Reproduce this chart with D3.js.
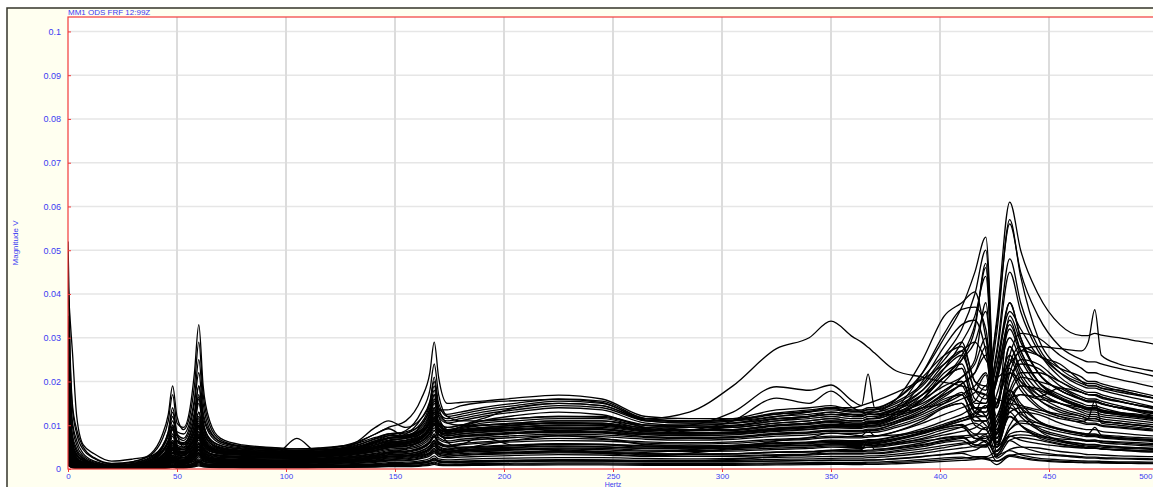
<!DOCTYPE html>
<html>
<head>
<meta charset="utf-8">
<script src="https://cdn.jsdelivr.net/npm/d3@7"></script>
<style>
  html, body { margin: 0; padding: 0; background: #ffffff; }
  svg { display: block; font-family: "Liberation Sans", Arial, sans-serif; }
</style>
</head>
<body>
<svg id="chart" width="1153" height="487"></svg>
<script>
// ---- labels ----
const title = "MM1 ODS FRF 12:99Z";
const xLabel = "Hertz";
const yLabel = "Magnitude V";
const xTicks = [0, 50, 100, 150, 200, 250, 300, 350, 400, 450, 500];
const yTicks = [0, 0.01, 0.02, 0.03, 0.04, 0.05, 0.06, 0.07, 0.08, 0.09, 0.1];

// ---- frequency lines (Hz) shared by every response ----
const hertz = [0,1,2,4,7, 12,20,30,38,43, 46,48,50,53,56, 58,60,62,65,70, 80,95,105,115,130,
  141,147,155,162,166, 168,170,174,180,190, 205,225,245,265,285, 305,325,340,350,360,
  364,367,370,380,392, 402,410,416,421,426, 432,437,445,455,465, 468,471,474,482,491, 500];

// ---- FRF magnitudes in mV, one row per measurement point ----
// X-direction points
const respX = [
  [45,24,14,8,4.4, 2.4,1.2,1.5,2.8,5, 8,12,8,7,10, 15,22,13,8.5,6.2, 5.2,4.8,4.6,4.8,5.6, 9.5,11,9.5,11.5,15, 19,14,12.5,13,14, 15,16,15.5,11.5,11, 11.5,13.5,14,14.5,13.5, 13.5,14,14,16,21, 26,28,20,18,34, 61,50,40,33,30.5, 30.5,31,30.6,30,29.2, 28.4],
  [30,17,10,5.5,3, 1.6,.9,1.2,2.4,4.5, 7.5,11,7.5,6.5,9, 13,19,12,8,5.8, 4.8,4.4,4.2,4.3,5, 7,8,8.5,10,14, 18,13,11.5,12,13, 14,15,14.5,11,10.5, 11,12.5,13,13.5,13, 13,13,13.5,16,22, 30,37,45,53,8, 22,27,26,23,21, 20,20,19.5,18.5,17.5, 16.5],
  [52,26,15,9,5, 2.6,1.3,1.7,3.2,6.5, 11,17,10.5,9.5,14, 22,33,19,11,7, 5.5,4.9,4.6,4.7,5.5, 7.2,8,8.2,10.5,15, 21,15,12,12.5,13.5, 14.5,15.5,15,11.5,11, 11,12,12.5,13,12.5, 12.5,13,13,14.5,18, 23,26,18,16,26, 45,36,27,21,18, 17.5,17.5,17,16,15, 14],
  [35,19,11,6.5,3.5, 1.8,1,1.7,3.5,7.5, 12.5,19,12,9,12.5, 19,29,17,10,6.6, 5.2,4.6,4.3,4.4,5.2, 6.8,7.6,7.8,9.5,13, 17,12.5,11,11.5,12.5, 13.5,14.5,14,11,10.5, 10.5,11.5,12,12.5,12, 12,12.5,12.5,14,17, 21,26,33,46,7, 20,24,23,19,16.5, 16,16,15.5,14.5,13.5, 12.5],
  [20,12,7,4,2.4, 1.3,.8,1.3,2.6,5, 8.5,13,8.5,8,11, 16,25,15,9,6.2, 5,4.5,4.2,4.5,5.8, 8,9.5,11,16,22, 29,21,15,15.2,15.5, 16.2,16.9,16,12,11.5, 11.5,12.8,13.5,14,13.2, 13.2,13.5,13.5,15,19, 25,29,20,19,33, 56,45,35,28,25, 24.5,24.5,24,23,22, 21],
  [15,9,5.5,3.2,2, 1.1,.7,1,1.8,3, 4.5,6.5,5,4.8,6.5, 9,13,8.5,6,4.8, 4.2,4,3.8,4,4.8, 6,7,7.5,8.5,11, 14,10.5,9.5,10,11.5, 14,15,14.5,11.5,13, 19,27.5,30,33.8,30.2, 29,27.8,26.5,22.4,21, 19.8,19,18,17,16, 15,14.5,13.5,12.5,11.5, 11.2,11,10.8,10.5,10, 9.5],
  [12,7,4,2.4,1.5, .9,.6,.9,1.6,2.8, 4.2,6,4.5,4.5,6, 8.5,12,8,5.5,4.5, 4,3.7,3.6,3.8,4.5, 5.5,6.5,7,8,10.5, 13,10,9,9.5,10, 10.5,11,11,10,10, 10.5,12,13,14,14, 14.5,15,15.5,17.5,20.5, 24,27,29,25,21, 24,27,28,27.5,27, 29,36.4,26,24,23, 22.2],
  [10,6,3.5,2,1.3, .8,.5,.8,1.4,2.4, 3.6,5,4,4,5.5, 7.5,10,7,5,4.2, 3.8,3.6,3.5,3.6,4.3, 5.2,6,6.5,7.5,9.5, 11.5,9,8.5,9,9.5, 10,10.5,10.5,9.5,10, 13,18.8,18,19.2,15.5, 14.5,21.7,14,13,14, 15,17,19,22,14, 28,23,18,15,13.5, 13,13,12.5,12,11.5, 11],
  [8,4.5,2.8,1.7,1.1, .7,.5,.8,1.3,2.2, 3.4,4.8,3.8,3.6,5, 7,9.5,6.5,4.6,3.9, 3.5,3.3,3.2,3.3,4, 4.8,5.6,6,7,9, 11,8.5,8,8.5,9, 9.5,10,10,9,9.5, 10,11,12,12.5,12.5, 12.5,13,13,16,25, 35,38,40.5,30,15, 25,20,16,13,12, 11.5,11.5,11,10.5,10, 9.5],
  [25,14,8,4.6,2.6, 1.4,.8,1.1,2.1,4, 6.5,9.5,6.5,6,8, 11.5,17,10.5,7,5.4, 4.6,4.2,4,4.1,4.8, 6.4,7.2,7.6,9,12.5, 16,12,10.5,11,12, 13,14,13.5,10.5,10, 10.5,11.5,12,12.5,12, 12,12.5,12.5,14,18, 24,27,18,17,31, 57,44,30,23,20, 19.5,19.5,19,18,17, 16]
];

// Y-direction points
const respY = [
  [42,34,27,12,5.5, 3.5,1.8,2.3,3,4, 5,6,5,4.5,5.5, 6.5,8,6,4.8,4, 3.6,3.4,7,3.6,4.2, 5,6,6.5,7.5,9, 11,8.5,8,8.5,9, 9.5,10,10,9,9, 9.5,10.5,11,11.5,11, 11,11.5,11.5,13,15, 18,20,14,13,20, 32,26,20,17,15, 14.5,14.5,14,13,12.5, 12],
  [18,10,6,3.4,2, 1.1,.6,.9,1.8,3.5, 6,9,6,5.5,8, 12,19,11,6.5,5, 4.3,4,3.8,3.9,4.6, 6.2,7,7.2,8.5,11.5, 15,11,9.5,10,11, 11.5,12,12,10,9.5, 9.5,10.5,11,11.5,11, 11,11.5,11.5,13,16, 21,23,15,15,27, 48,38,28,22,19, 18.5,18.5,18,17,16, 15],
  [22,12,7,4,2.3, 1.2,.7,1,2,3.8, 6.5,10,6.5,5.5,7, 10,15,9.5,6,4.8, 4.1,3.8,3.6,3.7,4.4, 5.8,6.6,7,8.2,11, 14,10.5,9,9.5,10.5, 11,11.5,11.5,9.5,9, 9,10,10.5,11,10.5, 10.5,11,11,12.5,15.5, 20,25,32,47,6, 18,22,22,20,17.5, 17,17,16.5,15.5,14.5, 13.5],
  [16,9,5.2,3,1.8, 1,.55,.8,1.5,3, 5,8,5.5,5,7, 10,16,9.5,6,4.6, 4,3.7,3.5,3.6,4.2, 5.5,6.2,6.6,8,10.5, 13,10,8.8,9.2,10, 10.5,11,11,9.2,8.8, 8.8,9.8,10.2,10.6,10.2, 10.2,10.6,10.6,12,16, 22,24,16,15,24, 38,30,22,18,16, 15.5,15.5,15,14,13, 12],
  [14,8,4.6,2.6,1.6, .9,.5,.7,1.3,2.6, 4.2,6.5,4.6,4.3,6, 8.5,13,8,5.2,4.3, 3.9,3.6,3.5,3.7,4.6, 6.5,7.6,8.8,13,18, 24,17,12,11,11, 11.5,12,11.8,10,9.6, 9.8,11,11.5,12,11.5, 11.5,12,12,13.5,17, 21,25,29,36,14, 35,29,22,18,16, 15.5,15.5,15,14,13.5, 13],
  [12,7,4,2.3,1.4, .8,.45,.7,1.2,2.2, 3.6,5.5,4,3.8,5.2, 7.2,11,7,4.8,4, 3.6,3.4,3.3,3.5,4.3, 6,7,8,11.5,15.5, 20,14,10.5,10,10, 10.3,10.6,10.5,9,8.8, 9,10,10.4,10.8,10.5, 10.5,10.8,10.8,12,14.5, 18,20,13,12,21, 33,27,20,16.5,14.5, 14,14,13.5,12.8,12, 11.5],
  [9,5.2,3,1.8,1.1, .65,.4,.6,1,1.9, 3,4.6,3.4,3.2,4.4, 6,9.2,6,4.2,3.6, 3.3,3.1,3,3.2,4, 5.5,6.4,7.2,10,13.5, 17,12,9,8.6,8.8, 9,9.2,9,8,8, 8.2,9,9.5,9.8,9.6, 9.6,9.8,9.8,11,13.5, 16.5,19.5,22,26,5, 14,17,16,15,13, 12.5,12.5,12,11.5,11, 10.5],
  [11,6.4,3.7,2.1,1.3, .75,.45,.7,1.2,2.3, 3.8,5.8,4.2,3.9,5.4, 7.6,11.5,7.2,5,4.1, 3.6,3.4,3.3,3.4,4, 5,5.8,6.2,7.5,10, 12.5,9.5,8.4,8.8,9.4, 10,10.5,10.3,9,8.8, 9,10,10.5,11,11, 11,11.4,11.6,14,22, 31,36.5,37,32,14, 28,22,17,14,12.5, 12,12,11.5,11,10.5, 10],
  [7,4,2.4,1.4,.9, .55,.35,.55,1,1.8, 2.9,4.4,3.2,3,4.2, 5.8,8.6,5.6,4,3.4, 3.1,2.9,2.8,3,3.6, 4.6,5.2,5.6,6.8,9, 11,8.5,7.6,8,8.5, 9,9.4,9.2,8.2,8, 8.3,9.2,9.6,10,10, 10.2,10.4,10.6,13,20, 28,33,34,27,12, 22,18,14,12,11, 10.5,10.5,10,9.6,9.2, 8.8],
  [9,5,3,1.7,1, .6,.35,.5,.9,1.6, 2.5,3.8,2.8,2.6,3.6, 5,7.4,4.8,3.6,3.1, 2.8,2.7,2.6,2.8,3.4, 4.3,5,5.4,6.4,8.4, 10.5,8,7.2,7.6,8, 8.4,8.8,8.6,7.8,7.6, 7.8,8.6,9,9.4,9.4, 9.6,9.8,10,12,16, 21,23,14,14,24, 36,32,26,24,20, 19,19,18.5,18,17, 16],
  [8,4.6,2.7,1.6,1, .55,.35,.5,.9,1.6, 2.4,3.6,2.7,2.6,3.5, 4.8,7,4.6,3.4,3, 2.7,2.6,2.5,2.7,3.3, 4.1,4.8,5.2,6.2,8, 10,7.8,7,7.4,7.8, 8.2,8.5,8.4,8,8.8, 11,16.2,15,17.8,14, 13,12.8,12.5,12.5,14, 17,19.5,22,28,6, 16,19,18,16,14, 13.5,13.5,13,12.5,12, 11.5],
  [6,3.5,2,1.2,.75, .45,.3,.6,1.3,2.8, 5,10,5.5,3.6,4, 5.2,7.2,4.6,3.4,2.9, 2.6,2.5,2.4,2.5,3.1, 3.9,4.5,4.8,5.8,7.5, 9.4,7.2,6.4,6.8,7.2, 7.6,8,7.8,7.2,7, 7.2,8,8.3,8.7,8.6, 8.7,8.9,9,10.5,13, 16,17,11,11,17, 26,21,16,13.5,12, 11.5,11.5,11,10.5,10, 9.6],
  [13,7.5,4.3,2.5,1.5, .85,.5,.9,2.2,4.6, 8.5,14,8,5,5.5, 7,10,6.5,4.6,3.8, 3.3,3.1,3,3.1,3.8, 4.7,5.3,5.7,6.8,9, 11.5,8.6,7.6,8,8.4, 8.8,9.2,9,8.2,8, 8.2,9,9.4,9.8,9.7, 9.7,10,10,11.5,14, 17.5,21,25,38,6, 17,21,20,18.5,16, 15.5,15.5,15,14,13.2, 12.5],
  [10,5.8,3.4,2,1.2, .7,.4,.65,1.2,2.2, 3.5,5.3,3.8,3.6,5, 7,10.5,6.6,4.6,3.8, 3.4,3.2,3.1,3.2,3.8, 4.8,5.5,6,7.2,9.6, 12,9,8,8.4,8.8, 9.2,9.6,9.5,8.5,8.3, 8.5,9.4,9.8,10.2,10, 10,10.3,10.4,12.5,17, 23,29,35,44,7, 20,25,24,20,17.5, 17,17,16.5,15.5,14.5, 14]
];

// Z-direction points
const respZ = [
  [6,3.4,2,1.1,.7, .4,.25,.45,.8,1.4, 2.2,3.2,2.4,2.3,3.2, 4.5,6.6,4.3,3.1,2.7, 2.4,2.3,2.2,2.4,2.9, 3.6,4.2,4.5,5.4,7, 8.8,6.8,6,6.4,6.8, 7.2,7.6,7.4,6.8,6.6, 6.8,7.5,7.8,8.2,8.1, 8.2,8.4,8.4,9.5,11.5, 14,15,10,9,15, 23,19,14.5,12,10.5, 10.2,10.2,9.8,9.4,9, 8.6],
  [5,2.8,1.6,.9,.55, .32,.2,.4,.7,1.2, 1.9,2.8,2.1,2,2.8, 4,5.8,3.8,2.8,2.4, 2.2,2.1,2,2.2,2.6, 3.2,3.8,4.1,5,6.4, 8,6.2,5.4,5.8,6.2, 6.6,7,6.8,6.2,6, 6.2,6.8,7.1,7.5,7.4, 7.4,7.6,7.6,8.6,10.5, 12.5,14,15.5,19,4, 10,13,12.5,10.5,9.2, 9,9,8.6,8.2,7.8, 7.5],
  [4,2.2,1.3,.75,.45, .26,.2,.35,.6,1, 1.6,2.4,1.8,1.7,2.4, 3.4,5,3.2,2.4,2.1, 1.9,1.8,1.8,1.9,2.3, 2.6,2.9,3,3.2,3.5, 3.9,3.6,3.8,4.4,5.5, 6.6,7.6,7,5.6,5.3, 5.4,6,6.2,6.6,6.5, 6.5,6.7,6.7,7.6,9.2, 11,12.5,14,12,7, 16,14,11,9,8, 7.8,7.8,7.5,7.1,6.8, 6.5],
  [3.5,2,1.1,.65,.4, .22,.15,.3,.5,.9, 1.4,2,1.5,1.5,2.1, 3,4.4,2.8,2.1,1.8, 1.6,1.6,1.5,1.6,2, 2.4,2.8,3.1,3.8,4.8, 6,4.6,4.1,4.4,4.7, 5,5.3,5.1,4.7,4.6, 4.7,5.2,5.4,5.7,5.6, 5.6,5.8,5.8,6.6,8, 9.5,10,7,7,11, 17,13,9.5,7.8,6.8, 6.6,6.6,6.3,6,5.7, 5.5],
  [3,1.7,1,.55,.35, .2,.15,.3,.7,1.5, 2.6,4.2,2.4,1.5,1.5, 1.8,2.3,1.7,1.4,1.3, 1.3,1.3,1.3,1.4,1.7, 2.1,2.5,2.7,3.3,4.2, 5.2,4,3.6,3.8,4.1, 4.3,4.6,4.4,4.1,4, 4.1,4.5,4.7,5,4.9, 4.9,5,5.1,5.8,7, 8.4,9.6,10.5,9,6, 12,10,8,6.6,5.8, 5.6,5.6,5.4,5.1,4.9, 4.7],
  [2.5,1.4,.8,.45,.3, .16,.12,.22,.4,.7, 1,1.5,1.1,1.1,1.5, 2.2,3.2,2,1.5,1.3, 1.2,1.1,1.1,1.2,1.5, 1.8,2.1,2.3,2.8,3.6, 4.4,3.4,3,3.2,3.5, 3.7,3.9,3.8,3.5,3.4, 3.5,3.9,4,4.3,4.2, 4.2,4.3,4.4,5,6, 7.2,7.5,5.5,5.5,8.5, 13,10,7.2,5.8,5, 4.8,4.8,4.6,4.4,4.2, 4],
  [2,1.1,.65,.38,.24, .14,.1,.18,.32,.55, .8,1.2,.9,.9,1.1, 1.4,1.9,1.3,1.1,1, 1,.95,.95,1,1.25, 1.5,1.8,1.9,2.4,3, 3.7,2.9,2.6,2.7,2.9, 3.1,3.3,3.2,2.9,2.9, 3,3.3,3.4,3.6,3.6, 3.6,3.7,3.7,4.2,5.1, 6.1,6.5,5,5,10, 18,14,9,6.5,5.2, 4.8,4.8,4.6,4.3,4, 3.8],
  [1.6,.9,.52,.3,.2, .12,.08,.15,.26,.45, .65,1,.75,.75,1, 1.5,2.1,1.4,1.05,.9, .8,.78,.76,.82,1, 1.2,1.45,1.55,1.9,2.4, 3,2.3,2.1,2.2,2.35, 2.5,2.6,2.6,2.4,2.3, 2.4,2.65,2.75,2.9,2.9, 2.9,3,3,3.4,4.1, 4.9,5.6,6.1,7.5,2.5, 4.5,5,4.8,4,3.5, 3.3,3.3,3.2,3,2.9, 2.8],
  [1.2,.7,.4,.24,.15, .09,.07,.12,.2,.35, .5,.75,.56,.56,.78, 1.1,1.6,1.05,.8,.7, .62,.6,.58,.62,.76, .92,1.1,1.2,1.45,1.85, 2.3,1.8,1.6,1.7,1.8, 1.9,2,2,1.85,1.8, 2.2,2.9,3.4,4.2,4.6, 4.7,5,5,5.6,6.4, 7,7.5,7.8,6,5, 7.5,6.6,5.8,5.2,4.8, 4.7,4.7,4.6,4.4,4.2, 4],
  [.9,.5,.3,.18,.11, .07,.05,.09,.15,.25, .36,.55,.4,.4,.56, .8,1.15,.75,.58,.5, .45,.43,.42,.45,.55, .66,.78,.84,1.02,1.3, 1.6,1.25,1.12,1.18,1.25, 1.32,1.4,1.38,1.28,1.25, 1.28,1.4,1.45,1.52,1.52, 1.52,1.56,1.58,1.8,2.15, 2.55,2.7,2.3,2.4,3, 4.2,3.3,2.5,2.1,1.85, 1.8,1.8,1.75,1.65,1.6, 1.55],
  [4.5,2.5,1.5,.85,.5, .3,.2,.35,.65,1.1, 1.7,2.5,1.9,1.8,2.5, 3.5,5.2,3.4,2.5,2.2, 2,1.9,1.85,2,2.5, 3,3.5,3.8,4.6,6, 7.5,5.8,5.1,5,4.8, 4.6,4.2,3.6,3,3.6, 4.8,6.4,7.2,8.2,7.8, 7.6,8.8,7.6,7.8,8.6, 9.8,11,12,10,8, 14,12.5,10.5,9,8.2, 8,9.5,7.8,7.5,7.2, 7],
  [28,14,6,2.5,1.2, .5,.18,.3,.55,.9, 1.4,2,1.5,1.4,1.9, 2.6,3.8,2.5,1.9,1.6, 1.5,1.4,1.4,1.5,1.8, 2.3,2.7,2.9,3.5,4.5, 5.5,4.3,3.8,4,4.3, 4.5,4.8,4.7,4.3,4.2, 4.4,4.8,5,5.3,5.2, 5.2,5.4,5.4,6.2,7.5, 9,9.5,7,6.5,10, 15,12,9,7.4,6.5, 6.3,6.3,6,5.7,5.4, 5.2],
  [7,4,2.3,1.3,.8, .45,.22,.5,1.1,2.2, 4,7.5,4.2,2.6,2.8, 3.4,4.4,3,2.3,2, 1.8,1.75,1.7,1.8,2.2, 2.7,3.2,3.4,4.1,5.2, 6.4,5,4.4,4.7,5, 5.3,5.6,5.5,5,4.9, 5,5.5,5.8,6.1,6, 6,6.2,6.2,7,8.4, 10,11.5,13,17,4, 9,11,10.5,9.2,8.2, 8,8,7.6,7.2,6.9, 6.6],
  [5.5,3,1.8,1,.6, .35,.2,.38,.7,1.2, 1.9,2.8,2.1,2,2.8, 3.8,5.6,3.6,2.7,2.3, 2.1,2,1.95,2.1,2.6, 3.1,3.7,4,4.8,6.2, 7.6,5.9,5.2,5.5,5.9, 6.2,6.5,6.4,5.9,5.7, 5.9,6.5,6.8,7.2,7.1, 7.1,7.3,7.4,8.6,11, 14,15,11,11,15, 22,20,17,15,14, 13.6,14.2,13.2,12.6,12, 11.4],
  [3,1.6,.9,.5,.3, .16,.07,.1,.18,.3, .45,.7,.5,.5,.7, 1,1.5,1,.75,.65, .58,.56,.55,.58,.7, .85,1,1.1,1.3,1.7, 2.1,1.65,1.5,1.55,1.65, 1.75,1.85,1.8,1.7,1.65, 1.7,1.85,1.95,2.05,2, 2,2.1,2.1,2.4,2.9, 3.4,3.9,4.3,5.5,1.8, 3,3.5,3.3,3,2.6, 2.5,2.5,2.4,2.3,2.2, 2.1],
  [2,1.1,.6,.32,.2, .1,.05,.07,.12,.2, .3,.45,.34,.33,.45, .65,.95,.62,.48,.42, .38,.36,.36,.38,.46, .55,.65,.7,.85,1.1, 1.35,1.05,.95,1,1.05, 1.1,1.18,1.15,1.08,1.05, 1.08,1.18,1.22,1.3,1.28, 1.28,1.32,1.33,1.5,1.8, 2.15,2.45,2.7,2.2,1.8, 3.2,2.7,2.1,1.8,1.6, 1.55,1.55,1.5,1.45,1.4, 1.35]
];

// base frame points
const respBase = [
  [3.2,1.8,1,.6,.38, .22,.16,.3,.6,1.1, 1.8,2.7,2,1.9,2.6, 3.5,5,3.3,2.5,2.2, 2.1,2,2.1,2.3,2.8, 3.4,3.9,4.1,4.8,6, 7.3,5.6,5,5.6,7.2, 5.4,5.8,5.6,5.2,5.1, 5.3,5.8,6,6.3,6.2, 6.2,6.4,6.4,7,8.2, 9.4,10.2,8,8,12, 18,15,11,9,8, 7.6,7.6,7.3,7,6.7, 6.4],
  [2.2,1.2,.7,.4,.26, .15,.1,.2,.4,.7, 1.1,1.7,1.3,1.2,1.7, 2.3,3.4,2.2,1.7,1.5, 1.4,1.35,1.3,1.4,1.7, 2,2.3,2.5,3,3.8, 4.7,3.7,3.3,3.5,3.7, 3.9,4.1,4,3.8,4.4, 5.2,5.4,5.3,5.5,5.4, 5.4,5.6,5.5,6,6.8, 7.8,8.6,9.4,11,5, 9,10.5,9.8,8.5,7.6, 7.4,7.4,7.1,6.8,6.5, 6.2],
  [8,4.5,2.6,1.5,.9, .5,.3,.6,1.4,2.9, 5.5,9,5,3.4,3.8, 5,7.8,5,3.6,3.1, 2.9,2.8,2.7,2.9,3.5, 4.3,5,5.3,6.4,8.2, 10.5,8,7.1,7.5,7.6, 8.2,8.6,8.4,7.4,7.2, 7.4,8.2,8.5,8.9,8.8, 8.8,9.1,9.1,10.5,12.5, 15,17.5,14,14,21, 34,27,20,16,14, 13.5,13.5,13,12.4,11.8, 11.2],
  [2.8,1.5,.9,.5,.32, .18,.12,.22,.4,.75, 1.2,1.8,1.4,1.3,1.8, 2.5,3.6,2.4,1.8,1.6, 1.5,1.5,1.45,1.6,2.1, 3,3.8,4.6,7,9.8, 13,9.2,6.2,4.6,4, 3.8,3.9,3.8,3.5,3.4, 3.5,3.8,3.9,4.1,4, 4,4.1,4.1,4.6,5.4, 6.4,7,7.6,9.5,3.4, 8,8.6,7.8,6.5,5.7, 5.5,5.5,5.3,5,4.8, 4.6],
  [5,2.8,1.6,.9,.55, .32,.22,.4,.75,1.3, 2.1,3.1,2.3,2.2,3, 4.2,6,4,3,2.6, 2.5,2.5,2.6,2.9,3.6, 4.6,5.4,5.8,7,9.2, 11.5,9.2,8.6,9.6,11, 12.2,13,12.4,9.4,8.2, 8,8.8,9.1,9.5,9.3, 9.3,9.6,9.6,10.8,13, 15.5,17,12,12,20, 30,25,19,16,14.2, 13.8,13.8,13.3,12.7,12.1, 11.5],
  [1.4,.75,.45,.26,.16, .1,.06,.1,.18,.3, .45,.7,.52,.5,.7, .95,1.4,.92,.7,.62, .56,.54,.53,.57,.7, .85,1,1.07,1.3,1.65, 2.05,1.6,1.45,1.52,1.6, 1.7,1.8,1.78,1.65,1.62, 1.66,1.82,1.9,2,1.98, 1.98,2.04,2.05,2.32,2.8, 3.3,3.6,2.8,2.8,4.2, 6.5,5.2,3.9,3.2,2.8, 2.7,2.7,2.6,2.5,2.4, 2.3],
  [4,2.2,1.3,.75,.45, .26,.18,.33,.6,1.05, 1.6,2.4,1.8,1.7,2.3, 3.2,4.6,3,2.3,2, 1.8,1.75,1.72,1.85,2.25, 2.8,3.3,3.5,4.2,5.4, 6.6,5.2,4.6,4.9,5.2, 5.5,5.8,5.7,5.3,5.2, 5.4,5.9,6.1,6.4,6.3, 6.3,6.5,6.6,7.4,8.8, 10.3,11.6,12.6,14.5,9, 16,17,16.5,18.5,17.5, 17,16.8,16.2,15.4,14.6, 14],
  [3.6,2,1.15,.65,.4, .23,.15,.28,.55,.95, 1.5,2.2,1.65,1.55,2.15, 3,4.3,2.8,2.1,1.85, 1.7,1.6,1.55,1.65,2, 2.5,2.9,3.1,3.7,4.7, 5.8,4.5,4,4.2,4.4, 4.5,4.4,3.9,3.2,2.9, 2.9,3.1,3.2,3.4,3.4, 3.4,3.5,3.5,3.9,4.6, 5.4,5.9,6.4,7.9,2.8, 6.6,7.2,6.6,5.6,5, 4.8,4.8,4.6,4.4,4.2, 4],
  [9,5,2.9,1.7,1, .6,.4,.6,1.1,2, 3.2,4.8,3.6,3.4,4.6, 6.4,9.8,6.2,4.4,3.8, 3.5,3.4,3.4,3.8,5.4, 8,9.2,7.4,8.6,10.6, 13.5,10.2,8.6,8.8,9.2, 9.6,10,9.8,8.8,8.8, 9.8,11.4,12,13,12.4, 12.2,12.6,12.4,13.6,16, 19,21,24,30,8, 24,28,26,22,19.5, 19,19,18.5,17.6,16.8, 16],
  [6.5,3.6,2.1,1.2,.75, .42,.28,.5,.9,1.6, 2.6,3.8,2.8,2.7,3.7, 5.2,7.6,5,3.6,3.1, 2.8,2.7,2.6,2.8,3.4, 4.2,4.9,5.2,6.3,8.1, 10.2,7.9,7,7.3,7.7, 8.1,8.4,8.2,7.4,7.1, 7.2,7.9,8.2,8.6,8.5, 8.5,8.8,8.8,9.9,12, 14.3,16,17.5,21.5,5.5, 15,19,18.4,16.2,14.4, 14,14,13.5,12.9,12.3, 11.7],
  [2.6,1.4,.8,.46,.3, .17,.11,.2,.36,.62, .95,1.4,1.05,1,1.4, 1.9,2.8,1.85,1.4,1.2, 1.1,1.06,1.04,1.12,1.38, 1.7,2,2.1,2.6,3.3, 4.1,3.2,2.9,3.1,3.3, 3.5,3.7,3.6,3.4,3.3, 3.4,3.8,3.9,4.2,4.3, 4.4,6.5,4.5,4.8,5.6, 6.6,7.2,5.5,5.2,8, 12,10,7.5,6.2,5.4, 5.2,5.2,5,4.8,4.6, 4.4],
  [3.8,2.1,1.2,.7,.43, .25,.17,.3,.55,.95, 1.5,2.2,1.65,1.55,2.15, 2.9,4.2,2.75,2.1,1.8, 1.65,1.6,1.55,1.65,2, 2.5,2.9,3.1,3.7,4.7, 5.9,4.6,4.1,4.3,4.6, 4.9,5.1,5,4.7,4.6, 4.8,5.3,5.5,5.8,5.8, 5.8,6,6,6.8,8.2, 9.8,11,12,14.5,5, 13,14,13,11.5,10.8, 11.5,15.5,10.5,10,9.5, 9],
  [1.8,1,.55,.3,.2, .12,.08,.13,.22,.38, .58,.88,.65,.62,.86, 1.2,1.75,1.15,.88,.76, .7,.68,.66,.7,.85, 1.05,1.22,1.3,1.6,2, 2.5,1.95,1.75,1.82,1.92, 2.02,2.12,2.1,1.98,1.95, 2,2.2,2.3,2.45,2.48, 2.5,2.6,2.62,3,3.6, 4.3,4.8,5.2,6.4,3.2, 7.4,7.8,7.4,6.9,6.6, 6.5,6.6,6.4,6.2,6, 5.8],
  [7.5,4.2,2.4,1.4,.85, .48,.32,.55,1,1.8, 2.9,4.3,3.2,3.1,4.2, 5.8,8.5,5.6,4.1,3.6, 3.3,3.2,3.1,3.3,4, 5,5.8,6.2,7.4,9.5, 11.8,9.2,8.3,8.8,9.4, 10,10.6,10.2,8.6,8.2, 8.4,9.3,9.7,10.2,10.1, 10.1,10.4,10.4,11.6,14, 17,19,13,13,22, 38,30,22,18,15.8, 15.3,15.3,14.8,14.1,13.4, 12.8],
  [1,.55,.32,.18,.11, .07,.04,.06,.1,.16, .24,.36,.27,.26,.36, .5,.72,.48,.37,.32, .29,.28,.28,.3,.36, .44,.52,.56,.68,.86, 1.06,.84,.76,.8,.84, .88,.94,.92,.86,.84, .86,.94,.98,1.04,1.03, 1.03,1.06,1.06,1.2,1.45, 1.72,1.95,2.15,2.6,1, 2.9,2.5,1.9,1.6,1.45, 1.4,1.4,1.36,1.3,1.25, 1.2],
  [18,10,5.8,3.3,2, 1.1,.65,1,2,3.8, 6.2,9.4,6.4,5.8,7.8, 11,16.5,10.2,6.8,5.3, 4.5,4.1,3.9,4,4.7, 6.2,7,7.4,8.8,12, 15.5,13.5,13.5,14.4,15.2, 15.6,15.9,15.2,11.2,10.8, 11.2,12.6,13.2,13.8,13.2, 13.2,13.6,13.6,15.4,19.5, 26,32,40,50,9, 26,31,30,26,23, 22,22,21.5,20.5,19.5, 18.5]
];

const mV = 1e-3; // stored magnitudes are millivolts

// ---- layout ----
const W = 1153, H = 487;
const plot = { left: 68, top: 17, right: 1158, bottom: 469 };
const blue = "#3b3bf2";
const red = "#f23a3a";

const svg = d3.select("#chart");

const x = d3.scaleLinear().domain([0, 500]).range([plot.left, plot.right]);
const y = d3.scaleLinear().domain([0, 0.1033]).range([plot.bottom, plot.top]);

// outer panel
svg.append("rect")
  .attr("x", 7).attr("y", 8)
  .attr("width", W).attr("height", H)
  .attr("fill", "#fffff0")
  .attr("stroke", "#34342a")
  .attr("stroke-width", 1.5);

// plot background
svg.append("rect")
  .attr("x", plot.left).attr("y", plot.top)
  .attr("width", plot.right - plot.left).attr("height", plot.bottom - plot.top)
  .attr("fill", "#ffffff");

// grid
const grid = svg.append("g");
grid.selectAll("line.h").data(yTicks.filter(d => d > 0)).join("line")
  .attr("class", "h")
  .attr("x1", plot.left).attr("x2", plot.right)
  .attr("y1", d => y(d)).attr("y2", d => y(d))
  .attr("stroke", "#e6e6e6").attr("stroke-width", 1.5);
grid.selectAll("line.v").data(xTicks.filter(d => d > 0)).join("line")
  .attr("class", "v")
  .attr("x1", d => x(d)).attr("x2", d => x(d))
  .attr("y1", plot.top).attr("y2", plot.bottom)
  .attr("stroke", "#dcdcdc").attr("stroke-width", 2);

// clip for traces
svg.append("clipPath").attr("id", "plotClip")
  .append("rect")
  .attr("x", plot.left).attr("y", plot.top)
  .attr("width", plot.right - plot.left).attr("height", plot.bottom - plot.top);

const series = [...respX, ...respY, ...respZ, ...respBase];
series.forEach((s, i) => {
  if (s.length !== hertz.length) throw new Error("response " + i + " has " + s.length + " values");
});

const line = d3.line()
  .x((v, i) => x(hertz[i]))
  .y(v => y(v * mV))
  .curve(d3.curveMonotoneX);

svg.append("g")
  .attr("clip-path", "url(#plotClip)")
  .selectAll("path")
  .data(series)
  .join("path")
  .attr("d", line)
  .attr("fill", "none")
  .attr("stroke", "#000")
  .attr("stroke-width", 1.3)
  .attr("stroke-linejoin", "round");

// plot frame
svg.append("rect")
  .attr("x", plot.left).attr("y", plot.top)
  .attr("width", plot.right - plot.left).attr("height", plot.bottom - plot.top)
  .attr("fill", "none")
  .attr("stroke", red)
  .attr("stroke-width", 1.2);

// axes
const yAxis = svg.append("g")
  .attr("transform", `translate(${plot.left},0)`)
  .call(d3.axisLeft(y).tickValues(yTicks).tickFormat(d3.format("~g"))
    .tickSizeInner(-3).tickSizeOuter(0).tickPadding(7));
yAxis.select(".domain").remove();
yAxis.selectAll(".tick line").attr("stroke", red);
yAxis.selectAll(".tick text")
  .attr("fill", blue)
  .style("font-size", "9px")
  .style("font-family", "'Liberation Sans', Arial, sans-serif");

const xAxis = svg.append("g")
  .attr("transform", `translate(0,${plot.bottom})`)
  .call(d3.axisBottom(x).tickValues(xTicks).tickFormat(d3.format("d"))
    .tickSizeInner(3).tickSizeOuter(0).tickPadding(1.5));
xAxis.select(".domain").remove();
xAxis.selectAll(".tick line").attr("stroke", red);
xAxis.selectAll(".tick text")
  .attr("fill", blue)
  .style("font-size", "8px")
  .style("font-family", "'Liberation Sans', Arial, sans-serif");
// keep the last label inside the panel
xAxis.selectAll(".tick text").filter(d => d === 500)
  .attr("text-anchor", "end").attr("dx", -6);

// titles
svg.append("text")
  .attr("x", plot.left).attr("y", 15)
  .attr("fill", blue)
  .style("font-size", "8px")
  .text(title);

svg.append("text")
  .attr("x", x(250)).attr("y", 487.3)
  .attr("text-anchor", "middle")
  .attr("fill", blue)
  .style("font-size", "7px")
  .text(xLabel);

svg.append("text")
  .attr("transform", `translate(18,243) rotate(-90)`)
  .attr("text-anchor", "middle")
  .attr("fill", blue)
  .style("font-size", "8px")
  .text(yLabel);
</script>
</body>
</html>
